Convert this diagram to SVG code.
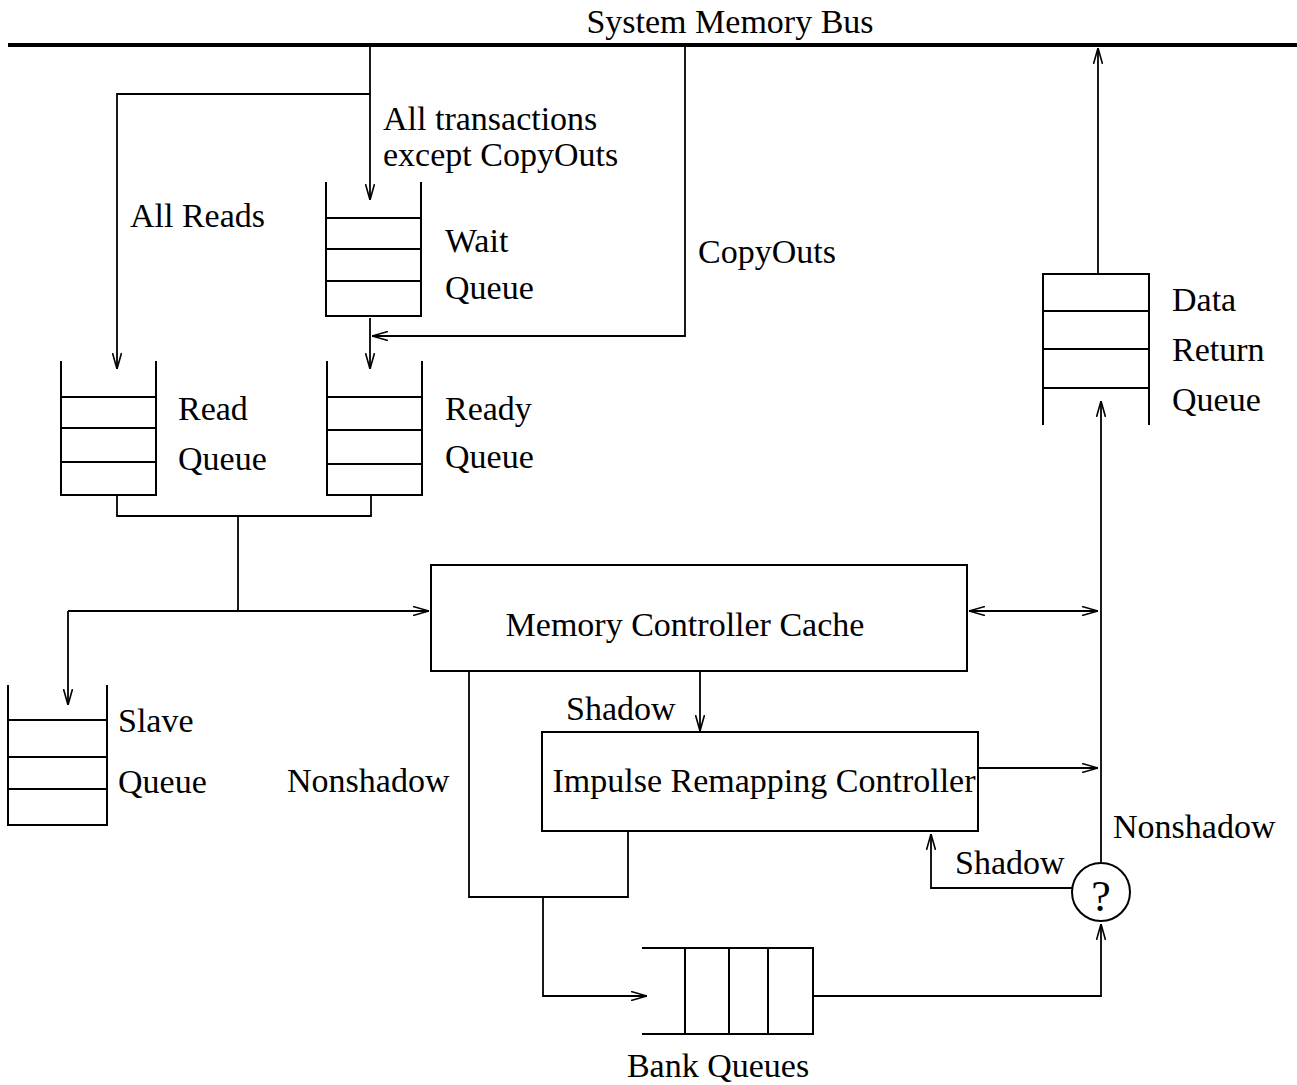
<svg xmlns="http://www.w3.org/2000/svg" width="1297" height="1085" viewBox="0 0 1297 1085">
<style>
text{font-family:"Liberation Serif","Times New Roman",serif;font-size:34px;fill:#000}
.ln{fill:none;stroke:#000;stroke-width:1.8}
.q{fill:none;stroke:#000;stroke-width:2}
.mid{text-anchor:middle}
</style>
<defs>
<marker id="arr" viewBox="0 0 16 10" refX="16" refY="5" markerWidth="16" markerHeight="10" markerUnits="userSpaceOnUse" orient="auto-start-reverse">
<path d="M0,0.5 L16,5 L0,9.5" fill="none" stroke="#000" stroke-width="1.6"/>
</marker>
</defs>
<rect width="1297" height="1085" fill="#fff"/>
<g id="bus">
<line x1="8" y1="45" x2="1297" y2="45" stroke="#000" stroke-width="4"/>
<text x="730" y="33" class="mid">System Memory Bus</text>
</g>
<g id="connectors">
<polyline class="ln" points="370,45 370,200" marker-end="url(#arr)"/>
<polyline class="ln" points="370,94 117,94 117,369" marker-end="url(#arr)"/>
<polyline class="ln" points="685,45 685,336 372,336" marker-end="url(#arr)"/>
<polyline class="ln" points="370,318 370,369" marker-end="url(#arr)"/>
<polyline class="ln" points="117,495 117,516 371,516 371,495"/>
<polyline class="ln" points="238,516 238,611"/>
<polyline class="ln" points="68,611 429,611" marker-end="url(#arr)"/>
<polyline class="ln" points="68,611 68,705" marker-end="url(#arr)"/>
<polyline class="ln" points="969,611 1098,611" marker-start="url(#arr)" marker-end="url(#arr)"/>
<polyline class="ln" points="700,671 700,731" marker-end="url(#arr)"/>
<polyline class="ln" points="469,671 469,897 628,897 628,831"/>
<polyline class="ln" points="543,897 543,996 647,996" marker-end="url(#arr)"/>
<polyline class="ln" points="978,768 1098,768" marker-end="url(#arr)"/>
<polyline class="ln" points="813,996 1101,996 1101,924" marker-end="url(#arr)"/>
<polyline class="ln" points="1072,888 931,888 931,834" marker-end="url(#arr)"/>
<polyline class="ln" points="1101,862 1101,401" marker-end="url(#arr)"/>
<polyline class="ln" points="1098,274 1098,48" marker-end="url(#arr)"/>
<text x="383" y="130">All transactions</text>
<text x="383" y="166">except CopyOuts</text>
<text x="130" y="227">All Reads</text>
<text x="698" y="263">CopyOuts</text>
<text x="566" y="720">Shadow</text>
<text x="287" y="792">Nonshadow</text>
<text x="955" y="874">Shadow</text>
<text x="1113" y="838">Nonshadow</text>
</g>
<g id="wait-queue">
<path class="q" d="M326,182 V316 H421 V182 M326,218 H421 M326,249 H421 M326,281 H421"/>
<text x="445" y="252">Wait</text>
<text x="445" y="299">Queue</text>
</g>
<g id="read-queue">
<path class="q" d="M61,361 V495 H156 V361 M61,397 H156 M61,428 H156 M61,462 H156"/>
<text x="178" y="420">Read</text>
<text x="178" y="470">Queue</text>
</g>
<g id="ready-queue">
<path class="q" d="M327,361 V495 H422 V361 M327,397 H422 M327,430 H422 M327,464 H422"/>
<text x="445" y="420">Ready</text>
<text x="445" y="468">Queue</text>
</g>
<g id="slave-queue">
<path class="q" d="M8,685 V825 H107 V685 M8,720 H107 M8,757 H107 M8,789 H107"/>
<text x="118" y="732">Slave</text>
<text x="118" y="793">Queue</text>
</g>
<g id="data-return-queue">
<path class="q" d="M1043,425 V274 H1149 V425 M1043,311 H1149 M1043,349 H1149 M1043,388 H1149"/>
<text x="1172" y="311">Data</text>
<text x="1172" y="361">Return</text>
<text x="1172" y="411">Queue</text>
</g>
<g id="memory-controller-cache">
<rect class="q" x="431" y="565" width="536" height="106"/>
<text x="685" y="636" class="mid">Memory Controller Cache</text>
</g>
<g id="impulse-remapping-controller">
<rect class="q" x="542" y="732" width="436" height="99"/>
<text x="764" y="792" class="mid">Impulse Remapping Controller</text>
</g>
<g id="bank-queues">
<path class="q" d="M642,948 H813 V1034 H642 M685,948 V1034 M729,948 V1034 M768,948 V1034"/>
<text x="718" y="1077" class="mid">Bank Queues</text>
</g>
<g id="decision">
<circle class="q" cx="1101" cy="892" r="29"/>
<text x="1101" y="911" class="mid" style="font-size:44px">?</text>
</g>
</svg>
